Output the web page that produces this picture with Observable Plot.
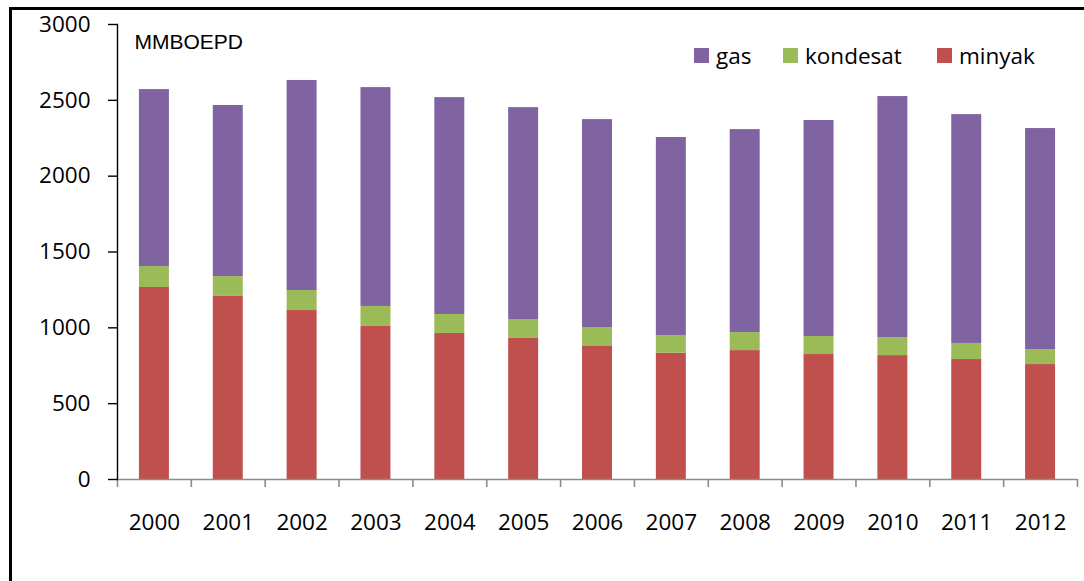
<!DOCTYPE html>
<html><head><meta charset="utf-8">
<script src="https://cdn.jsdelivr.net/npm/d3@7"></script>
<script src="https://cdn.jsdelivr.net/npm/@observablehq/plot@0.6"></script>
<style>
html,body{margin:0;padding:0;background:#fff;overflow:hidden;}
#wrap{position:relative;width:1084px;height:581px;overflow:hidden;font-family:"Open Sans",sans-serif;}
#chart{position:absolute;left:0;top:0;}
#border{position:absolute;left:9px;top:7px;width:1100px;height:600px;border-top:3px solid #000;border-left:3px solid #000;box-sizing:border-box;}
.leg{position:absolute;top:40px;height:30px;display:flex;align-items:center;font-size:22.5px;color:#000;white-space:nowrap;}
.sw{width:15px;height:15px;margin-right:7px;flex:none;}
</style></head>
<body>
<div id="wrap">
  <div id="chart"></div>
  <div id="border"></div>
  <div id="legend"></div>
</div>
<script>
const years = ["2000","2001","2002","2003","2004","2005","2006","2007","2008","2009","2010","2011","2012"];
const minyak = [1266,1207,1114,1009,963,930,877,833,850,824,817,791,758];
const kondesat = [138,131,132,132,125,125,125,116,119,119,119,106,99];
const gas = [1167,1128,1385,1443,1430,1397,1371,1306,1338,1424,1589,1509,1457];
const seriesNames = ["gas","kondesat","minyak"];
const seriesColors = ["#8064A2","#9BBB59","#C0504D"];
const yTicks = [0,500,1000,1500,2000,2500,3000];
const unitLabel = "MMBOEPD";

const rows = [];
years.forEach((yr, i) => {
  rows.push({year: yr, series: "minyak", value: minyak[i]});
  rows.push({year: yr, series: "kondesat", value: kondesat[i]});
  rows.push({year: yr, series: "gas", value: gas[i]});
});

const W = 1084, H = 581, mL = 117, mR = 7, mT = 24, mB = 102;
const step = (W - mL - mR) / years.length;

const chart = Plot.plot({
  width: W, height: H,
  marginLeft: mL, marginRight: mR, marginTop: mT, marginBottom: mB,
  style: {background: "transparent", fontFamily: "'Open Sans', sans-serif", fontSize: "22.5px", color: "#000", overflow: "visible"},
  x: {domain: years, paddingInner: 0.594, paddingOuter: 0.297, round: false, label: null},
  y: {domain: [0, 3000], label: null},
  color: {domain: seriesNames, range: seriesColors},
  marks: [
    Plot.barY(rows, {x: "year", y: "value", fill: "series"}),
    Plot.ruleY([0], {stroke: "#8c8c8c", strokeWidth: 1.6}),
    Plot.ruleX(years, {x: d => d, dx: -step / 2, y1: 0, y2: 0, insetBottom: -8, stroke: "#8c8c8c", strokeWidth: 1.6}),
    Plot.ruleX([years[years.length - 1]], {x: d => d, dx: step / 2, y1: 0, y2: 0, insetBottom: -8, stroke: "#8c8c8c", strokeWidth: 1.6}),
    Plot.frame({anchor: "left", stroke: "#000", strokeWidth: 1.4}),
    Plot.axisY({ticks: yTicks, tickFormat: d => String(d), tickSize: 9, tickPadding: 18, stroke: "#000", strokeWidth: 1.4, fontSize: 22.5, label: null}),
    Plot.axisX({tickSize: 0, tickPadding: 35, fontSize: 22.5, label: null}),
    Plot.text([unitLabel], {frameAnchor: "top-left", dx: 17, dy: 10, textAnchor: "start", lineAnchor: "top", fontFamily: "'Liberation Sans', Arial, sans-serif", fontSize: 21, fill: "#000"})
  ]
});
document.getElementById("chart").appendChild(chart);

const legendLeft = [694, 783, 937];
const legend = document.getElementById("legend");
seriesNames.forEach((s, i) => {
  const item = document.createElement("div");
  item.className = "leg";
  item.style.left = legendLeft[i] + "px";
  const sw = document.createElement("span");
  sw.className = "sw";
  sw.style.background = seriesColors[i];
  const t = document.createElement("span");
  t.textContent = s;
  item.appendChild(sw); item.appendChild(t);
  legend.appendChild(item);
});
</script>
</body></html>
